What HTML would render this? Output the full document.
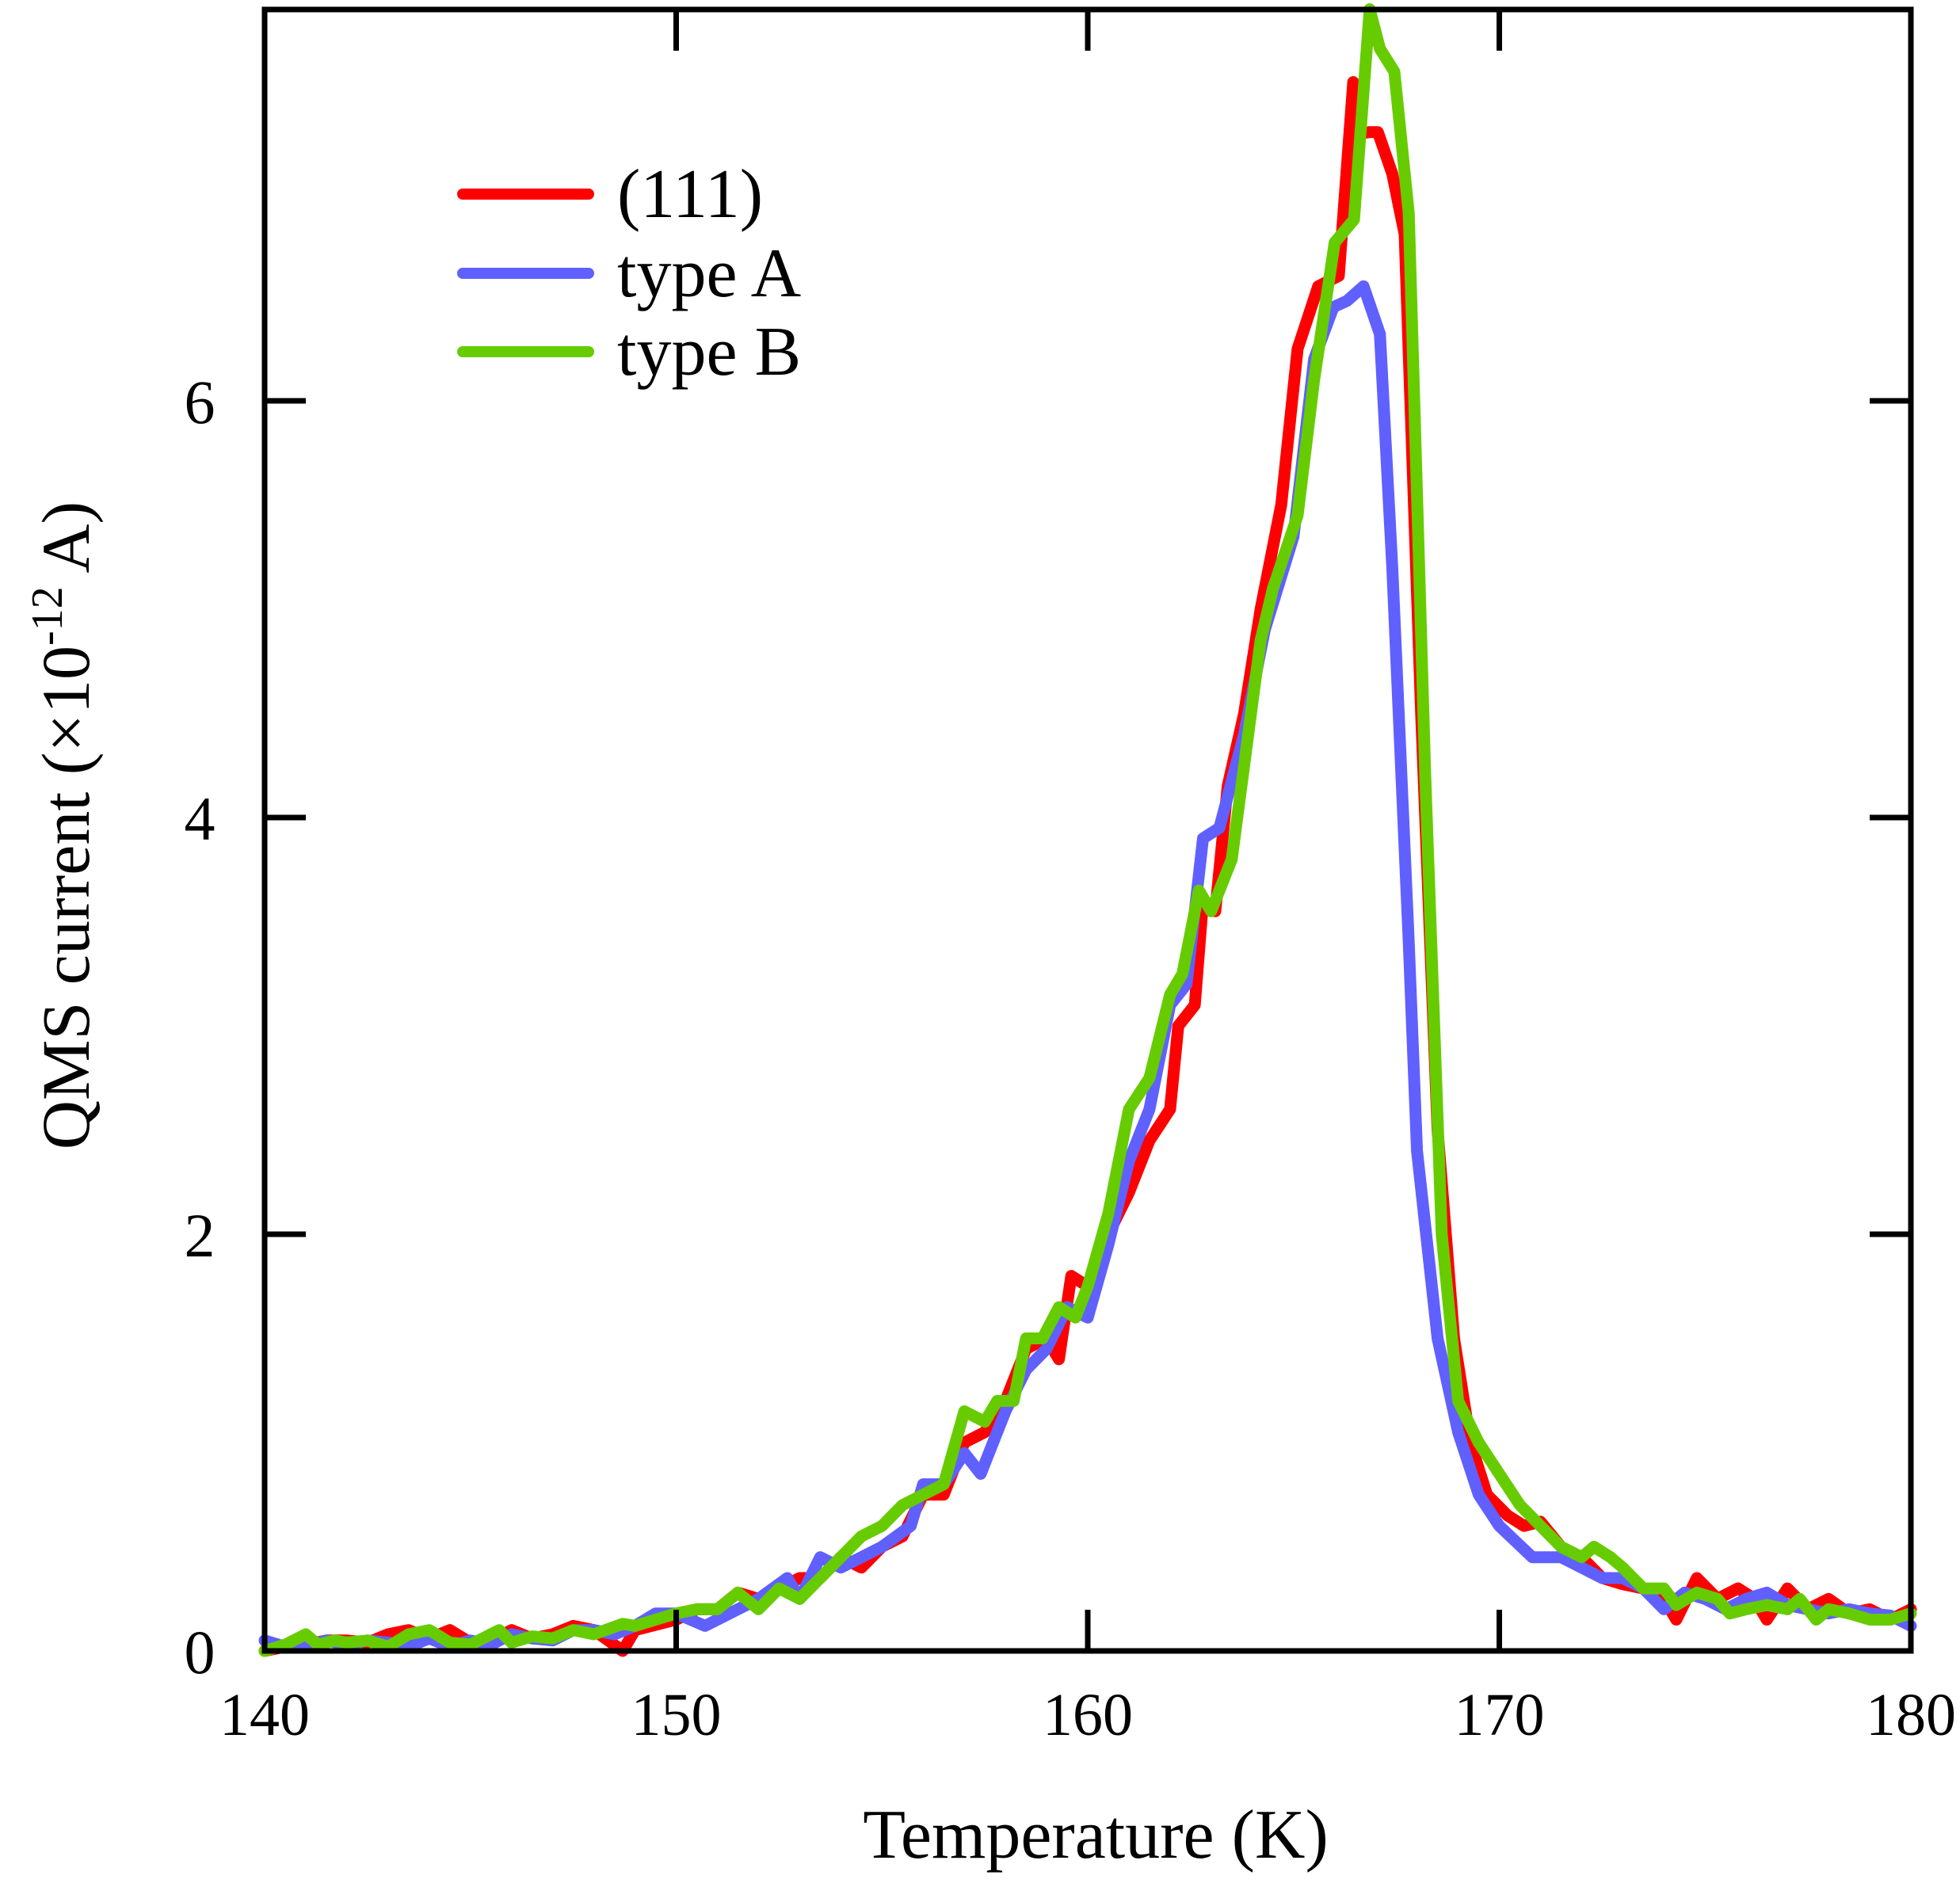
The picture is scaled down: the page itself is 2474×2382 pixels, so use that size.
<!DOCTYPE html>
<html><head><meta charset="utf-8"><style>
html,body{margin:0;padding:0;background:#fff;}
svg{display:block;font-family:"Liberation Serif",serif;}
</style></head><body>
<svg id="chart" width="2474" height="2382" viewBox="0 0 2474 2382" xmlns="http://www.w3.org/2000/svg">
<g id="series"></g>
<g id="axes"></g>
<g id="legend"></g>
<text x="1383" y="2345" font-size="88" text-anchor="middle">Temperature (K)</text>
<text transform="translate(112,1042) rotate(-90)" font-size="86" text-anchor="middle">QMS current (×10<tspan dy="-34" font-size="56">-12</tspan><tspan dy="34"> A)</tspan></text>
</svg>
<script>
const xTicks = [140, 150, 160, 170, 180];
const yTicks = [0, 2, 4, 6];
const legendLabels = ["(111)", "type A", "type B"];
const seriesColors = ["#ff0000", "#6060ff", "#66cc00"];

const redT = [140,140.5,141,141.5,142,142.5,143,143.5,144,144.5,145,145.5,146,146.5,147,147.5,148,148.7,149,150,150.5,151,151.5,152,152.5,153,153.5,154,154.5,155,155.5,156,156.5,157,157.5,158,158.5,159,159.3,159.6,160,160.5,161,161.5,162,162.2,162.6,162.8,163.1,163.4,163.8,164.2,164.7,165.1,165.6,166.1,166.45,166.5,166.85,167.05,167.4,167.7,168.1,168.5,168.9,169.3,169.7,170.2,170.6,171,171.5,172,172.5,173,173.5,174,174.3,174.8,175.3,175.8,176.2,176.5,177,177.5,178,178.5,179,179.5,180];
const redV = [0.0,0.02,0.03,0.05,0.05,0.04,0.08,0.1,0.06,0.1,0.04,0.05,0.1,0.06,0.08,0.12,0.1,0.0,0.1,0.15,0.2,0.2,0.28,0.25,0.3,0.35,0.35,0.45,0.4,0.5,0.55,0.75,0.75,1.0,1.05,1.2,1.45,1.5,1.4,1.8,1.75,2.0,2.2,2.45,2.6,3.0,3.1,3.6,3.55,4.15,4.5,5.0,5.5,6.25,6.55,6.6,7.53,7.28,7.29,7.29,7.09,6.8,4.5,2.5,1.5,1.0,0.75,0.65,0.6,0.62,0.5,0.45,0.35,0.32,0.3,0.25,0.15,0.35,0.25,0.3,0.25,0.15,0.3,0.2,0.25,0.18,0.2,0.15,0.2];

const blueT = [140,140.5,141,141.5,142,142.5,143,143.5,144,144.5,145,145.5,146,146.5,147,147.5,148,148.5,149,149.5,150,150.7,151,151.5,152,152.7,153,153.5,154,154.5,155,155.7,156,156.5,157,157.4,158,158.5,159,159.5,160,160.5,161,161.5,162,162.4,162.8,163.2,163.8,164.3,165,165.5,165.97,166.3,166.7,167.1,167.4,167.8,168,168.5,169,169.5,170,170.8,171.5,172,172.5,173,173.5,174,174.5,175,175.5,176,176.5,177,177.5,178,178.5,179,179.5,180];
const blueV = [0.05,0.02,0.02,0.05,0.03,0.05,0.04,0.02,0.06,0.02,0.05,0.03,0.08,0.06,0.05,0.1,0.1,0.08,0.12,0.18,0.18,0.12,0.15,0.2,0.25,0.35,0.25,0.45,0.4,0.45,0.5,0.6,0.8,0.8,0.95,0.85,1.15,1.35,1.45,1.65,1.6,1.95,2.35,2.6,3.1,3.2,3.9,3.95,4.4,4.9,5.35,6.2,6.45,6.48,6.55,6.32,5.2,3.4,2.4,1.5,1.05,0.75,0.6,0.45,0.45,0.4,0.35,0.35,0.3,0.2,0.28,0.25,0.2,0.25,0.28,0.22,0.2,0.18,0.2,0.18,0.17,0.12];

const greenT = [140,140.5,141,141.3,141.7,142,142.5,143,143.5,144,144.5,145,145.7,146,146.5,147,147.5,148,148.7,149,150,150.5,151,151.5,152,152.5,153,153.5,154,154.5,155,155.5,156,156.5,157,157.5,157.8,158.2,158.5,158.9,159.3,159.7,160,160.5,161,161.5,162,162.3,162.7,163,163.5,164.2,164.5,165.1,165.5,166.0,166.47,166.85,167.1,167.45,167.8,168.2,168.6,169.0,169.5,170,170.5,171,171.5,172,172.3,172.7,173,173.5,174,174.3,174.8,175.3,175.6,176,176.5,177,177.3,177.7,178,178.5,179,179.5,180];
const greenV = [0.0,0.03,0.08,0.03,0.05,0.04,0.05,0.02,0.08,0.1,0.04,0.03,0.1,0.04,0.07,0.06,0.1,0.08,0.13,0.12,0.18,0.2,0.2,0.28,0.2,0.3,0.25,0.35,0.45,0.55,0.6,0.7,0.75,0.8,1.15,1.1,1.2,1.2,1.5,1.5,1.65,1.6,1.75,2.1,2.6,2.75,3.15,3.25,3.65,3.55,3.8,4.85,5.1,5.45,6.1,6.76,6.87,7.88,7.69,7.58,6.9,4.2,2.0,1.2,1.0,0.85,0.7,0.6,0.5,0.45,0.5,0.45,0.4,0.3,0.3,0.22,0.28,0.25,0.18,0.2,0.22,0.2,0.25,0.15,0.2,0.18,0.15,0.15,0.18];

const L = 334, R = 2412, T = 12, B = 2084;
const xMin = 140, xMax = 180, yPerUnit = 263;
function xs(v){ return L + (v - xMin) / (xMax - xMin) * (R - L); }
function ys(v){ return B - v * yPerUnit; }
const NS = "http://www.w3.org/2000/svg";
function mk(tag, attrs, parent){ const e = document.createElementNS(NS, tag); for (const k in attrs) e.setAttribute(k, attrs[k]); parent.appendChild(e); return e; }

const seriesG = document.getElementById('series');
const allT = [redT, blueT, greenT], allV = [redV, blueV, greenV];
const names = ["series-111", "series-type-a", "series-type-b"];
for (let s = 0; s < 3; s++) {
  const pts = allT[s].map((t, i) => xs(t).toFixed(1) + "," + ys(allV[s][i]).toFixed(1)).join(" ");
  const pl = mk('polyline', {points: pts, fill: "none", stroke: seriesColors[s], "stroke-width": 15, "stroke-linejoin": "round", "stroke-linecap": "round"}, seriesG);
  
  
}

const axesG = document.getElementById('axes');
const frame = mk('rect', {x: L, y: T, width: R - L, height: B - T, fill: "none", stroke: "#000", "stroke-width": 7}, axesG);


const tl = 52;
xTicks.forEach(v => {
  const x = xs(v);
  if (v !== xMin && v !== xMax) {
    const t1 = mk('line', {x1: x, y1: B, x2: x, y2: B - tl, stroke: "#000", "stroke-width": 7}, axesG);
    
    
    const t2 = mk('line', {x1: x, y1: T, x2: x, y2: T + tl, stroke: "#000", "stroke-width": 7}, axesG);
    
    
  }
  const lb = mk('text', {x: x, y: 2190, "font-size": 76, "text-anchor": "middle"}, axesG);
  lb.textContent = v;
  
  
});
yTicks.forEach(v => {
  const y = ys(v);
  const t1 = mk('line', {x1: L, y1: y, x2: L + tl, y2: y, stroke: "#000", "stroke-width": 7}, axesG);
  
  
  const t2 = mk('line', {x1: R, y1: y, x2: R - tl, y2: y, stroke: "#000", "stroke-width": 7}, axesG);
  
  
  const lb = mk('text', {x: 252, y: y + 28, "font-size": 78, "text-anchor": "middle"}, axesG);
  lb.textContent = v;
  
  
});

const legG = document.getElementById('legend');
const legY = [245, 345, 444];
for (let i = 0; i < 3; i++) {
  const ln = mk('line', {x1: 584, y1: legY[i], x2: 743, y2: legY[i], stroke: seriesColors[i], "stroke-width": 14, "stroke-linecap": "round"}, legG);
  
  
  const tx = mk('text', {x: 779, y: legY[i] + 29, "font-size": 88}, legG);
  tx.textContent = legendLabels[i];
  
  
}
</script>
</body></html>
